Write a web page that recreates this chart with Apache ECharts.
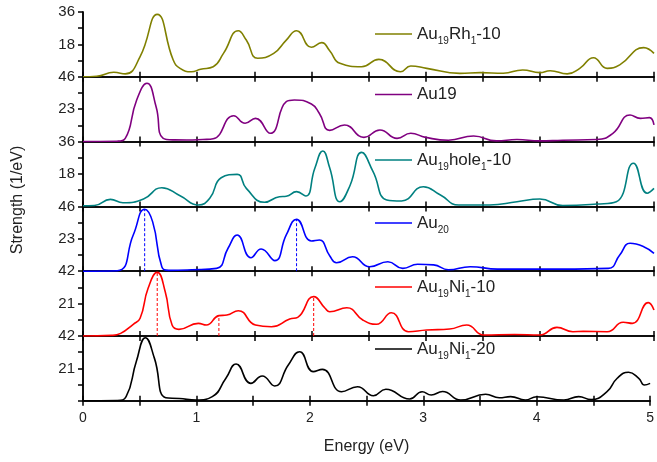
<!DOCTYPE html>
<html>
<head>
<meta charset="utf-8">
<script src="https://cdn.jsdelivr.net/npm/echarts@6/dist/echarts.min.js"></script>
<style>
html, body { margin: 0; padding: 0; background: #fff; }
#chart { width: 657px; height: 462px; }
</style>
</head>
<body>
<div id="chart"></div>
<script>
// series names (legend text is rich-formatted below)
const seriesNames = ['Au19Rh1-10', 'Au19', 'Au19hole1-10', 'Au20', 'Au19Ni1-10', 'Au19Ni1-20'];
const legendLabels = [
  '{a|Au}{s|19}{a|Rh}{s|1}{a|-10}',
  '{a|Au19}',
  '{a|Au}{s|19}{a|hole}{s|1}{a|-10}',
  '{a|Au}{s|20}',
  '{a|Au}{s|19}{a|Ni}{s|1}{a|-10}',
  '{a|Au}{s|19}{a|Ni}{s|1}{a|-20}'
];
const colors = ['#808000', '#800080', '#008080', '#0000ff', '#ff0000', '#000000'];
// y max of each panel (top label), mid label is half of it
const panelMax = [36, 46, 36, 46, 42, 42];
const xTicks = [0, 1, 2, 3, 4, 5];

// [energy eV, strength 1/eV]
const rh10 = [[0,0],[0.12,0.3],[0.27,2.5],[0.37,1.6],[0.5,11.2],[0.65,34.7],[0.79,9.3],[0.85,4.7],[0.95,2.8],[1.03,4.2],[1.14,5.6],[1.23,13],[1.36,25.6],[1.43,20.4],[1.53,10.3],[1.67,13],[1.78,20.4],[1.87,25.6],[2.0,16.4],[2.09,19],[2.16,14.5],[2.25,7.5],[2.44,5.6],[2.59,9.7],[2.78,2.8],[2.87,6],[3.01,4.7],[3.3,1.9],[3.48,2.3],[3.68,2],[3.85,3.8],[4.0,2.3],[4.09,3.4],[4.24,1.6],[4.35,4.7],[4.47,10.6],[4.59,4.7],[4.7,6.6],[4.91,16.2],[5.0,13]];
const au19 = [[0,0],[0.3,0.3],[0.37,2.3],[0.47,29.5],[0.56,41.4],[0.64,24.8],[0.7,2.5],[0.8,1.2],[0.91,1.1],[1.05,1.5],[1.14,2],[1.32,18.4],[1.42,13],[1.51,16.5],[1.64,5.9],[1.78,28.3],[1.85,29.5],[2.0,26.7],[2.07,20],[2.16,8],[2.29,11.8],[2.46,3],[2.6,8.2],[2.75,2.3],[2.87,5.9],[3.0,3],[3.2,1],[3.42,4],[3.62,0.5],[3.8,1.5],[4.0,0.5],[4.2,1],[4.5,1.5],[4.64,5.9],[4.79,18.9],[4.88,16.5],[4.96,17],[5.0,11.8]];
const hole10 = [[0,0.4],[0.1,0.5],[0.24,3.9],[0.35,2],[0.53,4.1],[0.69,10.4],[0.85,5.9],[1.01,0.8],[1.11,4.5],[1.21,15.9],[1.35,17.8],[1.43,10],[1.59,2.3],[1.72,5.4],[1.78,5.6],[1.87,8.2],[1.95,5.8],[2.03,21.2],[2.1,30.8],[2.16,21.5],[2.25,2.6],[2.34,11.9],[2.44,30],[2.54,19.3],[2.66,3.6],[2.79,3],[2.98,10.9],[3.13,6.3],[3.29,0.8],[3.56,0.8],[3.8,2.6],[4.0,4.1],[4.2,0.5],[4.5,1.3],[4.67,2.6],[4.82,24],[4.94,7.3],[5.0,10]];
const au20 = [[0,0],[0.3,0.3],[0.44,25.7],[0.54,44],[0.61,35],[0.69,3.2],[0.75,0.6],[0.95,1],[1.17,2],[1.27,16.3],[1.35,25.7],[1.47,9.6],[1.56,15.8],[1.68,7.5],[1.78,25.7],[1.87,36.8],[2.0,21.4],[2.07,22.1],[2.16,11],[2.22,6],[2.36,10.3],[2.51,3.2],[2.67,6.7],[2.8,2],[2.93,4.9],[3.07,4.5],[3.2,1],[3.39,3.2],[3.63,1.5],[3.9,1.5],[4.2,1.5],[4.6,2],[4.7,11.5],[4.79,19.8],[4.91,17.4],[5.0,12.7]];
const ni10 = [[0,0],[0.25,0.4],[0.33,1.7],[0.44,7.6],[0.5,11.5],[0.57,30.9],[0.65,41.3],[0.72,28.7],[0.78,7.1],[0.84,4.3],[1.01,8.2],[1.08,7.1],[1.19,13.2],[1.26,13.6],[1.36,16.4],[1.51,7.1],[1.65,6],[1.81,11],[1.88,12.1],[2.02,25.5],[2.12,18],[2.16,15.7],[2.31,18.3],[2.45,10.4],[2.57,7.6],[2.7,15.1],[2.85,2.8],[3.01,3.9],[3.21,4.5],[3.36,7.1],[3.51,0.6],[3.78,1],[4.0,0.6],[4.15,5.6],[4.29,2.8],[4.38,3],[4.59,2.8],[4.73,8.9],[4.81,8.2],[4.95,21.6],[5.0,16.8]];
const ni20 = [[0,0],[0.3,0.2],[0.38,2.7],[0.47,25.4],[0.55,40.9],[0.63,27.5],[0.73,2],[0.85,1.5],[1.0,0.5],[1.14,2.7],[1.26,14.6],[1.35,23.9],[1.48,11.3],[1.58,16.1],[1.69,9.6],[1.81,23.2],[1.91,31.8],[2.03,18.9],[2.11,20.4],[2.28,5.9],[2.42,9.1],[2.56,3.3],[2.67,7.5],[2.88,1.2],[2.99,5.9],[3.07,3.8],[3.17,6],[3.33,0.5],[3.55,4.2],[3.67,2],[3.77,2.7],[3.9,0.5],[4.0,2.6],[4.24,0.5],[4.37,2.7],[4.48,0.8],[4.62,5.9],[4.71,14.6],[4.81,18.5],[4.9,14.6],[4.95,10.2],[5.0,11.3]];
const curves = [rh10, au19, hole10, au20, ni10, ni20];

// dashed drop lines [energy, height]
const au20Drops = [[0.54, 44], [1.87, 36.8]];
const ni10Drops = [[0.65, 41.3], [1.19, 13.2], [2.02, 25.5]];
const drops = [[], [], [], au20Drops, ni10Drops, []];

// legend rows, y of the text centre
const legendY = [29, 93, 155, 218, 282, 344];

const chart = echarts.init(document.getElementById('chart'));
const FONT = 'Liberation Sans, Arial, sans-serif';
const panelTop = 12;
const panelH = 64.8;

const grid = [], xAxis = [], yAxis = [], series = [], legend = [];

panelMax.forEach((max, i) => {
  const last = i === panelMax.length - 1;
  grid.push({ left: 83, width: 571, top: panelTop + i * panelH, height: panelH });
  // bottom x axis
  xAxis.push({
    type: 'value', gridIndex: i, min: 0, max: 5, interval: 0.5, position: 'bottom',
    axisLine: { lineStyle: { color: '#000', width: 1.5 } },
    axisTick: { inside: true, length: 5, lineStyle: { color: '#000', width: 1.5 } },
    axisLabel: {
      show: last, color: '#222', fontSize: 14, fontFamily: FONT, margin: 10,
      formatter: v => (xTicks.indexOf(v) >= 0 ? String(v) : '')
    },
    splitLine: { show: false },
    name: last ? 'Energy (eV)' : '', nameLocation: 'middle', nameGap: 38,
    nameTextStyle: { fontSize: 16, color: '#222', fontFamily: FONT }
  });
  // top x axis
  xAxis.push({
    type: 'value', gridIndex: i, min: 0, max: 5, interval: 0.5, position: 'top',
    axisLine: { lineStyle: { color: '#000', width: 1.5 } },
    axisTick: { inside: true, length: 5, lineStyle: { color: '#000', width: 1.5 } },
    axisLabel: { show: false }, splitLine: { show: false }
  });
  yAxis.push({
    type: 'value', gridIndex: i, min: 0, max: max, interval: max / 4, position: 'left',
    axisLine: { show: true, lineStyle: { color: '#000', width: 1.5 } },
    axisTick: { show: true, inside: false, length: 5, lineStyle: { color: '#000', width: 1.5 } },
    axisLabel: {
      color: '#222', fontSize: 15, fontFamily: FONT, margin: 8,
      showMinLabel: true, showMaxLabel: true,
      formatter: v => (v === max || v === max / 2 ? String(v) : '')
    },
    splitLine: { show: false }
  });
  yAxis.push({
    type: 'value', gridIndex: i, min: 0, max: max, interval: max / 4, position: 'right',
    axisLine: { show: true, lineStyle: { color: '#000', width: 1.5 } },
    axisTick: { show: true, inside: true, length: 5, lineStyle: { color: '#000', width: 1.5 } },
    axisLabel: { show: false }, splitLine: { show: false }
  });

  series.push({
    name: seriesNames[i], type: 'line', smooth: 0.5, symbol: 'none',
    xAxisIndex: i * 2, yAxisIndex: i * 2,
    lineStyle: { color: colors[i], width: 1.6 }, itemStyle: { color: colors[i] },
    data: curves[i], z: 3
  });
  drops[i].forEach(d => {
    series.push({
      type: 'line', symbol: 'none', silent: true,
      xAxisIndex: i * 2, yAxisIndex: i * 2,
      lineStyle: { color: colors[i], width: 1, type: [3, 2] },
      data: [[d[0], 0], [d[0], d[1]]], z: 2
    });
  });

  legend.push({
    data: [seriesNames[i]], left: 370, top: legendY[i] - 12,
    icon: 'rect', itemWidth: 37, itemHeight: 1.6, itemGap: 6,
    formatter: () => legendLabels[i],
    selectedMode: false,
    textStyle: {
      color: '#222', fontFamily: FONT,
      rich: {
        a: { fontSize: 17, fontFamily: FONT, color: '#222', lineHeight: 24 },
        s: { fontSize: 10, fontFamily: FONT, color: '#222', lineHeight: 24, padding: [14, 0, 0, 0] }
      }
    }
  });
});

chart.setOption({
  animation: false,
  backgroundColor: '#fff',
  grid: grid,
  xAxis: xAxis,
  yAxis: yAxis,
  legend: legend,
  series: series,
  graphic: [{
    type: 'text', x: 18, y: 200, rotation: Math.PI / 2,
    style: {
      text: 'Strength (1/eV)', fontSize: 16, fontFamily: FONT, fill: '#222',
      align: 'center', verticalAlign: 'middle'
    }
  }]
});
</script>
</body>
</html>
